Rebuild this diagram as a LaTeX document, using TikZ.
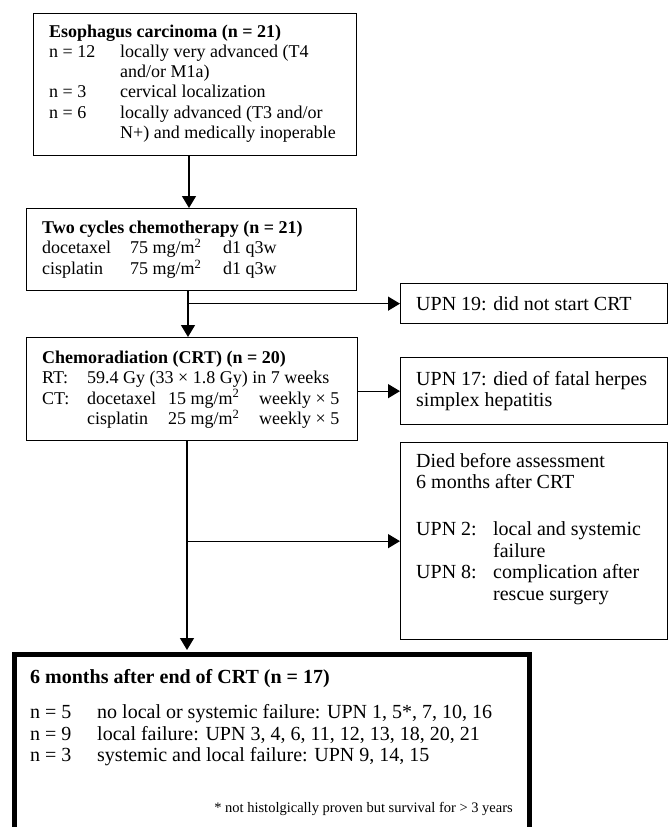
\documentclass[tikz,border=0pt]{standalone}
\usepackage{fontspec}
\setmainfont{Liberation Serif}
\usetikzlibrary{arrows.meta}
\begin{document}
\begin{tikzpicture}[x=1pt,y=-1pt,
  box/.style={draw,line width=1.3pt,rectangle,inner sep=0pt,anchor=north west},
  finbox/.style={draw,line width=4.5pt,rectangle,inner sep=0pt,anchor=north west},
  lt/.style={inner sep=0pt,anchor=base west,font=\fontsize{18}{20.3}\selectfont},
  rt/.style={inner sep=0pt,anchor=base west,font=\fontsize{20}{21.5}\selectfont},
  ft/.style={inner sep=0pt,anchor=base east,font=\fontsize{14.5}{17}\selectfont},
  conn/.style={line width=1.3pt},
  arr/.style={line width=1.3pt,-{Triangle[length=12pt,width=14pt]}}]
\clip (0,0) rectangle (671,827);
\useasboundingbox (0,0) rectangle (671,827);

% boxes
\node[box,minimum width=323pt,minimum height=142pt] (b1) at (33,13) {};
\node[box,minimum width=330pt,minimum height=82pt] (b2) at (26,208) {};
\node[box,minimum width=331pt,minimum height=103pt] (b3) at (26,337) {};
\node[box,minimum width=267pt,minimum height=40pt] (u19) at (400,283) {};
\node[box,minimum width=267pt,minimum height=67pt] (u17) at (400,357) {};
\node[box,minimum width=267pt,minimum height=197pt] (died) at (400,442) {};
\node[finbox,minimum width=515pt,minimum height=220pt] (fin) at (12,652) {};

% texts
\node[lt] (t1) at (49,37) {\begin{tabular}[t]{@{}p{71pt}@{}l@{}}
\multicolumn{2}{@{}l@{}}{\textbf{Esophagus carcinoma (n = 21)}}\\
n = 12 & locally very advanced (T4\\
 & and/or M1a)\\
n = 3 & cervical localization\\
n = 6 & locally advanced (T3 and/or\\
 & N+) and medically inoperable
\end{tabular}};

\node[lt] (t2) at (42,233) {\begin{tabular}[t]{@{}p{88pt}@{}p{93pt}@{}l@{}}
\multicolumn{3}{@{}l@{}}{\textbf{Two cycles chemotherapy (n = 21)}}\\
docetaxel & 75 mg/m\textsuperscript{2} & d1 q3w\\
cisplatin & 75 mg/m\textsuperscript{2} & d1 q3w
\end{tabular}};

\node[lt] (t3) at (42,363) {\begin{tabular}[t]{@{}p{45pt}@{}p{81pt}@{}p{91pt}@{}l@{}}
\multicolumn{4}{@{}l@{}}{\textbf{Chemoradiation (CRT) (n = 20)}}\\
RT: & \multicolumn{3}{@{}l@{}}{59.4 Gy (33 × 1.8 Gy) in 7 weeks}\\
CT: & docetaxel & 15 mg/m\textsuperscript{2} & weekly × 5\\
 & cisplatin & 25 mg/m\textsuperscript{2} & weekly × 5
\end{tabular}};

\node[rt] (t19) at (416,310) {UPN 19: did not start CRT};

\node[rt] (t17) at (416,385) {\begin{tabular}[t]{@{}l@{}}
UPN 17: died of fatal herpes\\
simplex hepatitis
\end{tabular}};

\node[rt] (td) at (416,467) {\begin{tabular}[t]{@{}p{77pt}@{}l@{}}
\multicolumn{2}{@{}l@{}}{Died before assessment}\\
\multicolumn{2}{@{}l@{}}{6 months after CRT}\\[4pt]
 & \\
UPN 2: & local and systemic\\
 & failure\\
UPN 8: & complication after\\
 & rescue surgery
\end{tabular}};

\node[rt] (tf) at (30,683) {\begin{tabular}[t]{@{}p{67pt}@{}l@{}}
\multicolumn{2}{@{}l@{}}{\textbf{6 months after end of CRT (n = 17)}}\\[14pt]
n = 5 & no local or systemic failure: UPN 1, 5*, 7, 10, 16\\
n = 9 & local failure: UPN 3, 4, 6, 11, 12, 13, 18, 20, 21\\
n = 3 & systemic and local failure: UPN 9, 14, 15
\end{tabular}};

\node[ft] (tn) at (513,812) {* not histolgically proven but survival for > 3 years};

% connectors
\coordinate (x1) at (189,0);
\coordinate (x2) at (188,0);
\coordinate (x3) at (187,0);
\draw[arr] (b1.south -| x1) -- (b2.north -| x1);
\draw[arr] (b2.south -| x2) -- (b3.north -| x2);
\draw[arr] (u19.west -| x2) -- (u19.west);
\draw[arr] (b3.east |- u17.west) -- (u17.west);
\draw[arr] (b3.south -| x3) -- ([yshift=2pt]fin.north -| x3);
\draw[arr] (died.west -| x3) -- (died.west);
\end{tikzpicture}
\end{document}
